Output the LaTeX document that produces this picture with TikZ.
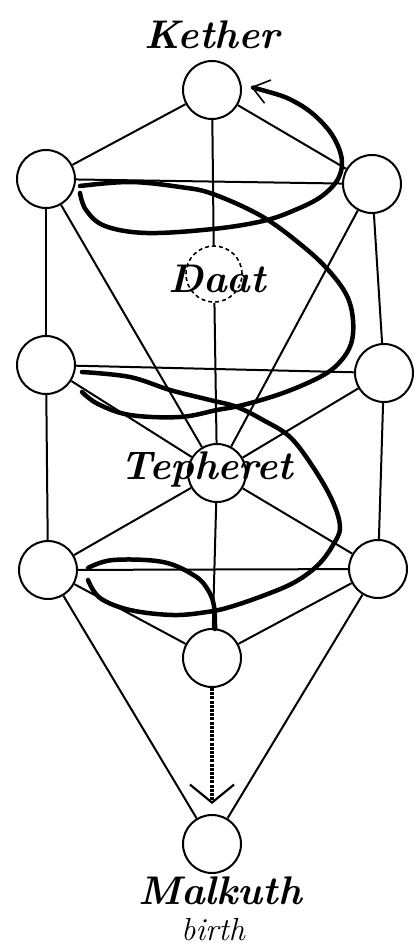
\documentclass[tikz,border=0pt]{standalone}
\usepackage{tikz}
\usetikzlibrary{arrows.meta}

\begin{document}
\begin{tikzpicture}[x=1pt,y=-1pt,
	sefira/.style={circle, draw=black, line width=2pt, minimum size=58pt, inner sep=0pt},
	hidden/.style={circle, draw=black, dash pattern=on 4pt off 3pt, line width=1.6pt, minimum size=56pt, inner sep=0pt},
	branch/.style={line width=2pt},
	serpent/.style={line width=4.5pt, line join=round, line cap=round},
	tag/.style={font=\fontsize{40}{44}\selectfont\bfseries\itshape, inner sep=0pt},
	descent/.style={line width=3.5pt, dash pattern=on 3pt off 1.2pt, shorten >=10pt, -{Straight Barb[length=18pt,width=44pt,line width=2.2pt]}}]
					\useasboundingbox (0,0) rectangle (417,951);
					
					\node[sefira] (kether) at (212,90) {};
					\node[sefira] (binah) at (46,179) {};
					\node[sefira] (chokmah) at (372,184) {};
					\node[hidden] (daat) at (214,274) {};
					\node[sefira] (geburah) at (46,365) {};
					\node[sefira] (chesed) at (384,373) {};
					\node[sefira] (tiphareth) at (217,473) {};
					\node[sefira] (netzach) at (48,570) {};
					\node[sefira] (hod) at (378,569) {};
					\node[sefira] (yesod) at (212,658) {};
					\node[sefira] (malkuth) at (212,844) {};
					
					\draw[branch] (kether) -- (binah);
					\draw[branch] (kether) -- (chokmah);
					\draw[branch] (kether) -- (daat);
					\draw[branch] (binah) -- (chokmah);
					\draw[branch] (binah) -- (geburah);
					\draw[branch] (chokmah) -- (chesed);
					\draw[branch] (binah) -- (tiphareth);
					\draw[branch] (chokmah) -- (tiphareth);
					\draw[branch] (daat) -- (tiphareth);
					\draw[branch] (geburah) -- (chesed);
					\draw[branch] (geburah) -- (tiphareth);
					\draw[branch] (chesed) -- (tiphareth);
					\draw[branch] (geburah) -- (netzach);
					\draw[branch] (chesed) -- (hod);
					\draw[branch] (tiphareth) -- (netzach);
					\draw[branch] (tiphareth) -- (hod);
					\draw[branch] (tiphareth) -- (yesod);
					\draw[branch] (netzach) -- (hod);
					\draw[branch] (netzach) -- (yesod);
					\draw[branch] (hod) -- (yesod);
					\draw[branch] (netzach) -- (malkuth);
					\draw[branch] (hod) -- (malkuth);
					\draw[descent] (yesod) -- (malkuth);
					
					\draw[serpent, {Straight Barb[length=16pt,width=24pt,line width=1.6pt]}-] plot[smooth, tension=0.6] coordinates {(251,87) (297,103) (327,128) (341,155) (339,177) (322,196) (295,210) (263,221) (213,229) (147,233) (105,226) (86,210) (80,193)};
					\draw[serpent] plot[smooth, tension=0.6] coordinates {(80,186) (130,182) (180,187) (213,194) (263,217) (305,248) (330,272) (347,296) (353,320) (351,344) (339,363) (320,377) (283,393) (243,405) (217,410) (180,417) (130,415) (98,404) (82,392)};
					\draw[serpent] plot[smooth, tension=0.6] coordinates {(82,372) (130,377) (170,390) (210,400) (237,407) (263,420) (290,437) (313,467) (332,500) (340,527) (333,545) (318,565) (295,582) (265,595) (230,607) (207,612) (173,615) (130,610) (100,598) (88,580)};
					\draw[serpent] plot[smooth, tension=0.6] coordinates {(88,568) (113,560) (163,562) (195,576) (208,590) (214,606) (215,629)};
					
					\node[tag] (ketherlbl) at (212,35) {Kether};
					\node[tag] (daatlbl) at (217,279) {Daat};
					\node[tag] (tepheretlbl) at (207,469) {Tepheret};
					\node[tag] (malkuthlbl) at (220,891) {Malkuth};
					\node[tag, font=\fontsize{32}{36}\selectfont\itshape] (birthlbl) at (213,930) {birth};
				\end{tikzpicture}
\end{document}
